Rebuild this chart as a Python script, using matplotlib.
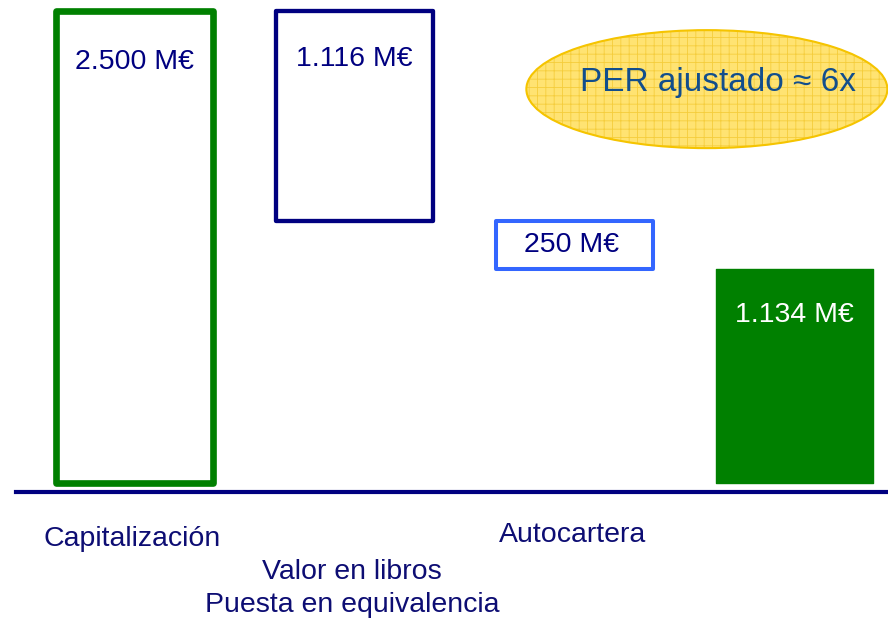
import numpy as np
import matplotlib
matplotlib.use("Agg")
import matplotlib.pyplot as plt
from matplotlib.patches import Ellipse

plt.rcParams['font.family'] = ['Liberation Sans', 'DejaVu Sans']
plt.rcParams['hatch.linewidth'] = 0.6

# Datos del puente de valoración (M€)
categorias = ["Capitalización", "Valor en libros\nPuesta en equivalencia", "Autocartera", ""]
valores = [2500, 1116, 250, 1134]
etiquetas = ["2.500 M€", "1.116 M€", "250 M€", "1.134 M€"]
tipo = ["total", "resta", "resta", "total"]
texto_per = "PER ajustado ≈ 6x"

# Estilos
navy = "#000080"
verde = "#008000"
bordes = [verde, navy, "#3366ff", verde]
rellenos = ["none", "none", "none", verde]
grosores = [4.8, 3.1, 2.9, 1.0]
color_valor = [navy, navy, navy, "white"]
desplaz_valor = [-37, -35, None, -33]   # puntos bajo la parte superior (None = centrado)
y_categoria = [-294, -560, -275]

# Bases del gráfico en cascada
bases = []
acumulado = 0
for v, t in zip(valores, tipo):
    if t == "total":
        bases.append(0)
        acumulado = v
    else:
        acumulado -= v
        bases.append(acumulado)

fig = plt.figure(figsize=(8.88, 6.19), dpi=100)
ax = fig.add_axes([0, 0, 1, 1])
ax.set_xlim(-0.611, 3.425)
ax.set_ylim(-719.6, 2555.6)
ax.axis("off")

x = np.arange(len(valores))
barras = ax.bar(x, valores, bottom=bases, width=0.715,
                color=rellenos, edgecolor=bordes, linewidth=grosores)
for b in barras:
    b.set_joinstyle("round")

# Etiquetas de valor
for xi, v, base, txt, col, off in zip(x, valores, bases, etiquetas, color_valor, desplaz_valor):
    if off is None:
        ax.text(xi - 0.015, base + v / 2, txt, ha="center", va="center", fontsize=20.5, color=col)
    else:
        ax.annotate(txt, (xi, base + v), xytext=(0, off), textcoords="offset points",
                    ha="center", va="center", fontsize=20.5, color=col)

# Línea base
ax.axhline(-47, xmin=16 / 888, xmax=1, color=navy, linewidth=3)

# Categorías
for xi, cat, yc in zip(x, categorias, y_categoria):
    ax.text(xi - 0.01, yc, cat, ha="center", va="center", fontsize=20.5,
            color="#0d0d73", linespacing=1.35)

# Óvalo del PER
centro, ancho, alto = (0.796, 0.856), 0.4065, 0.1906
ax.add_patch(Ellipse(centro, ancho, alto, transform=ax.transAxes,
                     facecolor="#ffe372", edgecolor="none", zorder=3))
ax.add_patch(Ellipse(centro, ancho, alto, transform=ax.transAxes,
                     facecolor="none", edgecolor="#f5cd3c", hatch="++",
                     linewidth=0.5, zorder=4))
ax.add_patch(Ellipse(centro, ancho, alto, transform=ax.transAxes,
                     facecolor="none", edgecolor="#f5c400", linewidth=1.5, zorder=4))
ax.text(0.809, 0.8675, texto_per, transform=ax.transAxes, ha="center", va="center",
        fontsize=24, color="#124e8c", zorder=5)

fig.savefig("out.png", dpi=100)
